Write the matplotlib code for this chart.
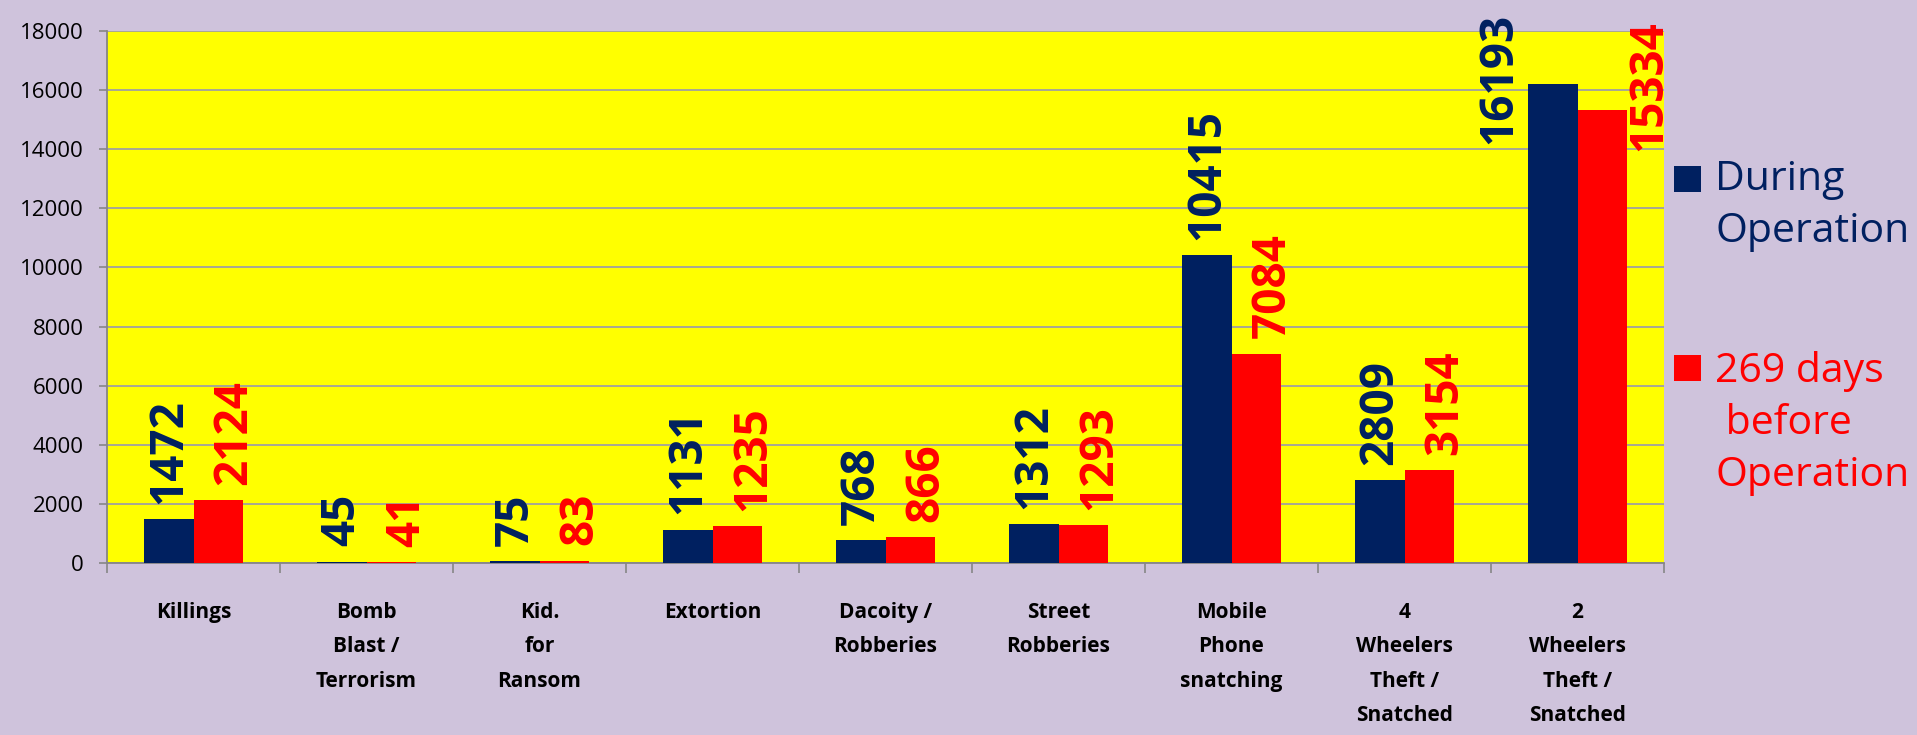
import matplotlib.pyplot as plt
import matplotlib.patches as mpatches
import matplotlib.transforms as mtransforms
import numpy as np

# crime categories and counts
categories = ['Killings', 'Bomb\nBlast /\nTerrorism', 'Kid.\nfor\nRansom', 'Extortion',
              'Dacoity /\nRobberies', 'Street\nRobberies', 'Mobile\nPhone\nsnatching',
              '4\nWheelers\nTheft /\nSnatched', '2\nWheelers\nTheft /\nSnatched']
during_operation = [1472, 45, 75, 1131, 768, 1312, 10415, 2809, 16193]
before_operation = [2124, 41, 83, 1235, 866, 1293, 7084, 3154, 15334]
legend_labels = ['During\nOperation', '269 days\n before\nOperation']

NAVY = '#002060'
RED = '#ff0000'
BG = '#cfc3dc'
W, H = 1917, 735

plt.rcParams['font.family'] = ['Open Sans', 'DejaVu Sans']

fig = plt.figure(figsize=(W / 100, H / 100), dpi=100, facecolor=BG)
ax = fig.add_axes([107 / W, (H - 563) / H, 1557 / W, 532 / H])
ax.set_facecolor('#ffff00')

x = np.arange(len(categories))
bw = 0.285
bars1 = ax.bar(x - bw / 2, during_operation, bw, color=NAVY, zorder=3)
bars2 = ax.bar(x + bw / 2, before_operation, bw, color=RED, zorder=3)

ax.set_xlim(-0.5, len(categories) - 0.5)
ax.set_ylim(0, 18000)
ax.set_yticks(np.arange(0, 18001, 2000))
ax.yaxis.grid(True, color='#a0a0a0', linewidth=1.3, zorder=0)
ax.set_axisbelow(True)

# tick marks at category boundaries, labels at centers
ax.set_xticks(np.arange(-0.5, len(categories), 1.0))
ax.set_xticklabels([])
ax.set_xticks(x, minor=True)
ax.set_xticklabels(categories, minor=True, fontsize=15, fontweight='bold', linespacing=1.84)
ax.tick_params(axis='x', which='minor', length=0, pad=28)
ax.tick_params(axis='x', which='major', length=7, color='#868686', width=1.2)
ax.tick_params(axis='y', length=6, color='#868686', width=1.2, labelsize=16, pad=11)

for s in ['top', 'right']:
    ax.spines[s].set_visible(False)
for s in ['left', 'bottom']:
    ax.spines[s].set_color('#868686')
    ax.spines[s].set_linewidth(1.3)

# value labels
trans = mtransforms.blended_transform_factory(ax.transData, ax.transAxes)
for bars, vals, col, dx in [(bars1, during_operation, NAVY, 0), (bars2, before_operation, RED, 11.5)]:
    for b, v in zip(bars, vals):
        if v > 15000:
            if col == NAVY:
                ax.annotate(str(v), xy=(b.get_x(), 1.0), xycoords=trans, xytext=(-4, 13),
                            textcoords='offset points', rotation=90, ha='right', va='top',
                            fontsize=33, fontweight='bold', color=col, annotation_clip=False)
            else:
                ax.annotate(str(v), xy=(b.get_x() + b.get_width(), 1.0), xycoords=trans,
                            xytext=(-1, 8), textcoords='offset points', rotation=90,
                            ha='left', va='top', fontsize=33, fontweight='bold', color=col,
                            annotation_clip=False)
        else:
            ax.annotate(str(v), xy=(b.get_x() + b.get_width() / 2, v), xytext=(dx, 11),
                        textcoords='offset points', rotation=90, ha='center', va='bottom',
                        fontsize=33, fontweight='bold', color=col)

# legend drawn by hand
for (sq_top, txt_top), lab, col in zip([(166, 160), (355, 351)], legend_labels, [NAVY, RED]):
    fig.add_artist(mpatches.Rectangle((1674 / W, 1 - (sq_top + 26) / H), 27 / W, 26 / H,
                                      transform=fig.transFigure, facecolor=col, edgecolor='none'))
    fig.text(1715 / W, 1 - txt_top / H, lab, color=col, fontsize=29.5, va='top', ha='left',
             linespacing=1.37)

plt.savefig('out.png', dpi=100, facecolor=BG)
